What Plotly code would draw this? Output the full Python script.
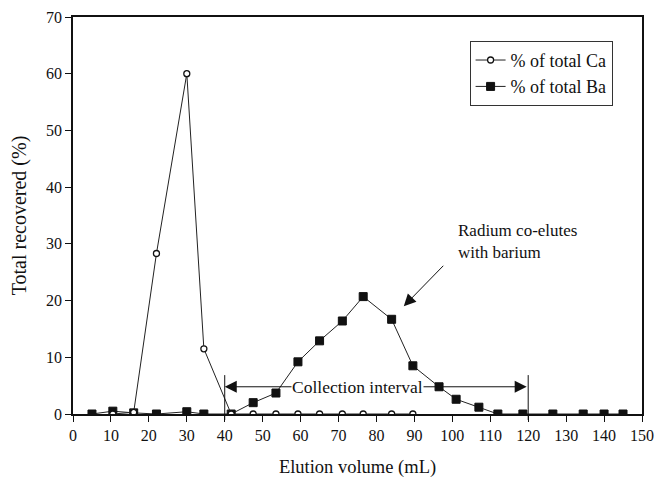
import plotly.graph_objects as go

ca_x = [10.5, 16, 22, 30, 34.5, 41.7, 47.5, 53.5, 59.3, 65, 71, 76.5, 84, 89.6]
ca_y = [0, 0.3, 28.3, 60, 11.5, 0, 0, 0, 0, 0, 0, 0, 0, 0]

ba_x = [5, 10.5, 16, 22, 30, 34.5, 41.7, 47.5, 53.5, 59.3, 65, 71, 76.5, 84, 89.6,
        96.5, 101, 107, 112, 118.6, 126.5, 134.5, 140, 145]
ba_y = [0, 0.5, 0.2, 0, 0.4, 0, 0, 2.0, 3.7, 9.2, 12.9, 16.4, 20.7, 16.7, 8.5,
        4.8, 2.6, 1.2, 0, 0, 0, 0, 0, 0]

x_ticks = list(range(0, 151, 10))
y_ticks = list(range(0, 71, 10))

FONT = "Liberation Serif"

fig = go.Figure()
fig.add_trace(go.Scatter(
    x=ba_x, y=ba_y, mode="lines+markers", name="% of total Ba",
    line=dict(color="#222", width=1),
    marker=dict(symbol="square", size=8, color="#111", line=dict(color="#111", width=1)),
))
fig.add_trace(go.Scatter(
    x=ca_x, y=ca_y, mode="lines+markers", name="% of total Ca",
    line=dict(color="#222", width=1),
    marker=dict(symbol="circle", size=6, color="white", line=dict(color="#111", width=1.3)),
))

# Collection interval
for xv in [40, 120]:
    fig.add_shape(type="line", x0=xv, x1=xv, y0=-0.015, y1=0.098, xref="x", yref="paper",
                  line=dict(color="#111", width=1))
fig.add_annotation(x=40, y=4.8, ax=120, ay=4.8, xref="x", yref="y", axref="x", ayref="y",
                   text="", showarrow=True, arrowhead=2, arrowside="end+start",
                   arrowsize=2.4, arrowwidth=1, arrowcolor="#111")
fig.add_annotation(x=75, y=4.8, xref="x", yref="y", text="Collection interval",
                   showarrow=False, bgcolor="white", font=dict(family=FONT, size=17.5, color="#111"),
                   borderpad=0)

# Radium annotation
fig.add_annotation(x=87.2, y=19.0, ax=98.0, ay=26.4, xref="x", yref="y", axref="x", ayref="y",
                   text="", showarrow=True, arrowhead=2, arrowsize=2.4, arrowwidth=1,
                   arrowcolor="#111")
fig.add_annotation(x=101, y=26.5, xref="x", yref="y", xanchor="left", yanchor="bottom",
                   text="Radium co-elutes<br>with barium", align="left", showarrow=False,
                   font=dict(family=FONT, size=17, color="#111"))

fig.update_layout(
    width=657, height=480,
    margin=dict(l=73, r=15, t=17, b=66),
    plot_bgcolor="white", paper_bgcolor="white",
    font=dict(family=FONT, size=16, color="#111"),
    showlegend=True,
    legend=dict(x=0.697, y=0.94, xanchor="left", yanchor="top",
                bordercolor="#333", borderwidth=1, bgcolor="white",
                traceorder="reversed", font=dict(family=FONT, size=18),
                itemwidth=30, tracegroupgap=0),
    xaxis=dict(range=[0, 150], tickvals=x_ticks, ticks="outside", ticklen=6,
               tickcolor="#111", showline=True, linecolor="#111", linewidth=1.5,
               mirror=True, showgrid=False, zeroline=False, automargin=False,
               title=dict(text="Elution volume (mL)", font=dict(family=FONT, size=18.5), standoff=17),
               tickfont=dict(family=FONT, size=16)),
    yaxis=dict(range=[0, 70], tickvals=y_ticks, ticks="outside", ticklen=6,
               tickcolor="#111", showline=True, linecolor="#111", linewidth=1.5,
               mirror=True, showgrid=False, zeroline=False, automargin=False,
               title=dict(text="Total recovered (%)", font=dict(family=FONT, size=20), standoff=14),
               tickfont=dict(family=FONT, size=16)),
)

fig.write_html("out.html")
